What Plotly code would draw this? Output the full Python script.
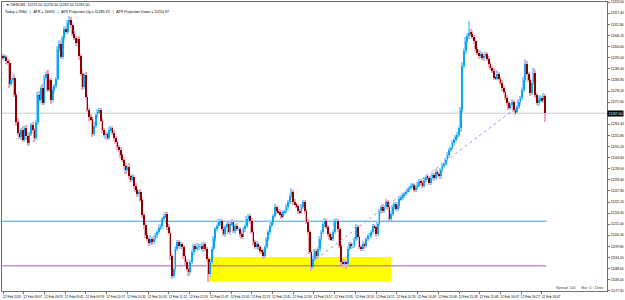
import plotly.graph_objects as go

# ---------------- data ----------------
FIRST_OPEN = 11296.0
CLOSE = [
    11295.0, 11295.5, 11293.5, 11292.5, 11281.5, 11283.5, 11285.0, 11276.0, 11262.5, 11257.0,
    11255.0, 11258.5, 11253.5, 11259.5, 11255.5, 11252.0, 11256.5, 11261.0, 11258.5, 11254.5,
    11262.5, 11276.0, 11273.5, 11279.5, 11272.0, 11285.0, 11287.0, 11278.5, 11283.5, 11273.5,
    11278.5, 11280.5, 11284.5, 11299.5, 11302.0, 11295.5, 11305.0, 11309.5, 11308.0, 11312.5,
    11314.0, 11311.5, 11307.0, 11305.0, 11302.5, 11304.5, 11296.0, 11287.0, 11280.0, 11286.5,
    11275.0, 11268.5, 11265.0, 11264.0, 11256.5, 11260.5, 11266.0, 11267.5, 11268.5, 11263.0,
    11258.5, 11256.0, 11256.5, 11254.5, 11258.5, 11259.5, 11257.0, 11254.5, 11252.5, 11250.0,
    11248.5, 11246.0, 11243.5, 11240.5, 11238.5, 11240.0, 11235.5, 11233.5, 11235.0, 11230.5,
    11228.5, 11226.0, 11227.5, 11223.0, 11215.5, 11210.5, 11205.5, 11203.5, 11201.5, 11203.5,
    11202.0, 11203.5, 11205.5, 11207.0, 11209.0, 11210.0, 11213.5, 11215.0, 11216.0, 11209.5,
    11206.5, 11195.0, 11185.0, 11188.5, 11198.5, 11202.0, 11200.0, 11201.0, 11199.5, 11195.0,
    11192.0, 11188.5, 11187.0, 11192.0, 11197.0, 11200.0, 11198.5, 11199.5, 11200.0, 11200.0,
    11198.5, 11201.0, 11198.5, 11193.5, 11186.0, 11192.0, 11198.5, 11203.5, 11208.5, 11210.0,
    11212.0, 11212.5, 11208.5, 11206.0, 11209.5, 11211.0, 11207.0, 11211.0, 11212.0, 11207.5,
    11210.0, 11208.5, 11208.5, 11206.0, 11204.5, 11208.5, 11210.0, 11213.5, 11215.0, 11212.5,
    11207.0, 11202.0, 11199.5, 11201.0, 11199.5, 11197.5, 11197.0, 11195.0, 11199.5, 11203.5,
    11207.0, 11210.0, 11212.0, 11215.0, 11219.5, 11217.5, 11217.0, 11216.0, 11215.0, 11217.0,
    11217.5, 11219.5, 11222.0, 11225.0, 11227.5, 11222.0, 11221.0, 11220.0, 11217.5, 11217.0,
    11219.5, 11222.0, 11217.5, 11212.0, 11207.0, 11197.0, 11189.5, 11193.5, 11197.5, 11195.0,
    11198.5, 11203.5, 11207.0, 11211.0, 11212.5, 11209.5, 11206.0, 11204.5, 11203.5, 11207.0,
    11212.5, 11212.5, 11208.5, 11200.0, 11192.0, 11191.0, 11192.0, 11191.0, 11198.5, 11201.0,
    11200.0, 11200.0, 11203.5, 11209.5, 11204.5, 11199.5, 11198.5, 11201.0, 11200.0, 11203.5,
    11205.0, 11205.0, 11207.0, 11210.0, 11209.5, 11206.0, 11211.0, 11217.5, 11219.5, 11217.5,
    11219.5, 11222.0, 11219.5, 11213.5, 11216.0, 11219.5, 11221.0, 11218.5, 11220.0, 11223.5,
    11224.5, 11225.5, 11226.0, 11227.5, 11228.5, 11229.5, 11230.5, 11231.0, 11228.5, 11230.0,
    11231.0, 11233.0, 11232.0, 11230.5, 11233.5, 11235.0, 11234.5, 11232.0, 11234.5, 11236.0,
    11234.5, 11237.5, 11236.5, 11235.5, 11238.5, 11240.5, 11241.5, 11243.5, 11246.0, 11248.5,
    11249.5, 11252.0, 11253.5, 11255.0, 11256.0, 11259.5, 11268.5, 11291.0, 11298.5, 11303.5,
    11306.0, 11307.5, 11307.0, 11305.5, 11303.5, 11299.5, 11297.5, 11296.0, 11297.0, 11295.0,
    11296.0, 11297.0, 11294.5, 11292.0, 11290.0, 11288.5, 11285.0, 11284.5, 11287.0, 11284.5,
    11282.0, 11279.5, 11277.5, 11274.5, 11272.0, 11269.5, 11271.0, 11272.5, 11268.5, 11267.5,
    11270.0, 11272.5, 11274.5, 11278.5, 11283.5, 11292.0, 11287.0, 11283.5, 11277.0, 11282.0,
    11287.5, 11276.0, 11272.0, 11273.5, 11274.5, 11273.5, 11275.5, 11267.0,
]
WICK_UP = [
    1, 1.5, 1, 1, 2, 1.5, 1, 2, 1, 2,
    1.5, 1, 2, 1, 1.5, 2, 1, 1, 1.5, 1,
    1, 1.5, 2, 1, 2, 1.5, 1, 2, 1, 1.5,
    1.5, 1, 1, 1.5, 2, 1.5, 1, 1.5, 1, 1.5,
    2, 1.5, 1, 1.5, 1, 1, 1.5, 1, 2, 1,
    1.5, 1, 1, 1.5, 1, 2, 1, 1.5, 1, 1,
    1.5, 1, 1, 1, 1.5, 1, 1, 1.5, 1, 1,
    1, 1.5, 1, 1, 1.5, 1, 2, 1, 1.5, 1,
    1.5, 1, 1, 1.5, 1, 1, 1.5, 1, 1, 2,
    1, 1.5, 1, 1, 1.5, 1, 1, 1.5, 1, 1,
    1.5, 1, 1, 2, 1.5, 1, 1, 1.5, 1, 1,
    1, 1.5, 1, 1, 1.5, 1, 1, 2, 1, 1,
    1.5, 1, 1, 1, 1, 1.5, 1, 1.5, 1, 1,
    1.5, 1, 1, 1.5, 1, 1, 1.5, 1, 1.5, 1,
    1, 1.5, 1, 1, 1.5, 1, 1, 1.5, 1, 1,
    1.5, 1, 1, 1.5, 1, 1, 1, 1.5, 1, 1,
    1, 1.5, 1, 1, 1.5, 1, 1, 1.5, 1, 1,
    1, 1.5, 1, 1, 2, 1, 1.5, 1, 1, 1,
    1.5, 1, 1, 1, 1.5, 1, 1, 1.5, 1, 1,
    1, 1.5, 1, 1, 1.5, 1, 1, 1, 1.5, 1,
    1, 1.5, 1, 1, 1, 1.5, 1, 1, 1.5, 1,
    1, 1.5, 1, 1.5, 1, 1, 1, 1.5, 1, 1,
    1, 1.5, 1, 1, 1, 1, 1.5, 1, 1, 1.5,
    1, 1.5, 1, 1, 1.5, 1, 1, 1, 1.5, 1,
    1, 1, 1.5, 1, 1, 1, 1.5, 1, 1, 1,
    1.5, 1, 1, 1, 1.5, 1, 1, 1, 1.5, 1,
    1, 1.5, 1, 1, 1, 1.5, 1, 1, 1.5, 1,
    1, 1.5, 1, 1, 1.5, 1, 1.5, 2, 1.5, 2,
    1.5, 6, 2, 1.5, 1, 1.5, 1, 1.5, 2, 1,
    1.5, 1, 1, 1.5, 1, 1, 1.5, 1, 2, 1,
    1, 1.5, 1, 1, 1.5, 1, 1, 1.5, 1, 1,
    1, 1.5, 1, 1.5, 2, 2.5, 1.5, 1, 1.5, 2,
    2.5, 1.5, 1, 2, 1.5, 1, 1.5, 1,
]
WICK_DN = [
    1, 1, 1.5, 1, 2, 1, 1.5, 1, 2, 1.5,
    1, 1.5, 1, 1, 2, 1.5, 1, 1, 1.5, 2,
    1, 1.5, 1, 1.5, 1, 1, 1.5, 1, 1, 2,
    1, 1.5, 1, 1, 1.5, 1, 1, 1.5, 1, 1,
    1, 1.5, 1, 1, 1.5, 1, 2, 1, 1.5, 1,
    1.5, 1, 2, 1, 1.5, 1, 1, 1.5, 1, 1,
    1.5, 1, 2, 1, 1, 1.5, 1, 1.5, 1, 1.5,
    1, 1.5, 1, 1.5, 2, 1, 1.5, 1, 1, 1.5,
    1, 1.5, 1, 1, 1.5, 2, 1.5, 1, 1.5, 1,
    1.5, 1, 1, 1.5, 1, 1, 1.5, 1, 1, 1.5,
    1, 2, 1.5, 1, 1.5, 1, 1, 1.5, 1, 1.5,
    1.5, 1, 2, 1, 1, 1.5, 1, 1, 1.5, 1,
    1, 1.5, 1, 1.5, 4, 1.5, 1, 1, 1.5, 1,
    1, 1.5, 1, 1, 1.5, 1, 1, 1.5, 1, 1,
    1.5, 1, 1, 1.5, 1, 1, 1.5, 1, 1, 1.5,
    1, 1.5, 1, 1, 1.5, 1, 1, 1.5, 1, 1,
    1, 1.5, 1, 1, 1, 1.5, 1, 1, 1.5, 1,
    1, 1, 1.5, 1, 1, 1.5, 1, 1, 1.5, 1,
    1, 1, 1.5, 1, 1.5, 1, 2, 1, 1, 1.5,
    1, 1.5, 1, 1, 1.5, 1, 1, 1.5, 1, 1,
    1, 1, 1.5, 1, 1.5, 2, 1, 2.5, 1, 1,
    1.5, 1, 1, 1, 1.5, 1, 1, 1, 1.5, 1,
    1, 1.5, 1, 1, 1, 1.5, 1, 1, 1.5, 1,
    1, 1, 1.5, 1, 1, 1, 1.5, 1, 1, 1,
    1, 1.5, 1, 1, 1, 1.5, 1, 1, 1, 1.5,
    1, 1, 1.5, 1, 1, 1, 1.5, 1, 1, 1,
    1.5, 1, 1, 1, 1.5, 1, 1, 1, 1, 1.5,
    1, 1, 1.5, 1, 1, 1, 2, 1.5, 1, 1.5,
    1, 1.5, 1, 1, 1.5, 1, 1, 1.5, 1, 1,
    1.5, 1, 1, 1.5, 1, 1, 1.5, 1, 1, 1.5,
    1, 1.5, 1, 1, 1.5, 1, 1, 1.5, 1, 1.5,
    1, 1, 1.5, 1, 1, 1.5, 1, 1, 1.5, 1,
    1, 1.5, 1, 1.5, 1, 1, 1.5, 4.5,
]
TIME_LABELS = [
    "12 Feb 2019", "12 Feb 09:07", "12 Feb 09:23", "12 Feb 09:41", "12 Feb 09:59",
    "12 Feb 10:17", "12 Feb 10:35", "12 Feb 10:53", "12 Feb 11:11", "12 Feb 11:29",
    "12 Feb 11:47", "12 Feb 12:05", "12 Feb 12:23", "12 Feb 12:41", "12 Feb 12:59",
    "12 Feb 13:17", "12 Feb 13:35", "12 Feb 13:53", "12 Feb 14:11", "12 Feb 14:29",
    "12 Feb 14:49", "12 Feb 15:08", "12 Feb 15:28", "12 Feb 15:48", "12 Feb 16:07",
    "12 Feb 16:27", "12 Feb 16:47",
]
BARS_PER_LABEL = 12.5
PRICE_TICK0, PRICE_STEP, PRICE_TICKS = 11177.4, 5.6, 27

RESISTANCE = 11212.5
SUPPORT = 11190.0
ZONE_LOW, ZONE_HIGH = 11182.0, 11194.5
ZONE_FROM_BAR, ZONE_TO_BAR = 123.6, 234.0
LEVELS_END_BAR = 327.6
TREND_FROM = (189, 11193.5)
TREND_TO = (306, 11267.5)

# ---------------- build candles ----------------
n = len(CLOSE)
opens = [FIRST_OPEN] + CLOSE[:-1]
highs = [max(o, c) + u for o, c, u in zip(opens, CLOSE, WICK_UP)]
lows = [min(o, c) - d for o, c, d in zip(opens, CLOSE, WICK_DN)]
body_top = [max(o, c) for o, c in zip(opens, CLOSE)]
body_bot = [min(o, c) for o, c in zip(opens, CLOSE)]
xs = list(range(n))
last = CLOSE[-1]
is_bull = [c >= o for o, c in zip(opens, CLOSE)]

BULL_LIGHT = "#92d2fa"
BEAR_LIGHT = "#f0a8b8"
BULL_DARK = "#0aa6f2"
BEAR_DARK = "#8b0000"

fig = go.Figure()
# light shadow: full high-low range of every bar
fig.add_trace(go.Bar(
    x=xs,
    y=[h - l for h, l in zip(highs, lows)],
    base=lows,
    width=1.0,
    marker=dict(color=[BULL_LIGHT if b else BEAR_LIGHT for b in is_bull], line=dict(width=0)),
    hoverinfo="skip", showlegend=False,
))
# thin dark body on top
fig.add_trace(go.Bar(
    x=xs,
    y=[t - b for t, b in zip(body_top, body_bot)],
    base=body_bot,
    width=0.5,
    marker=dict(color=[BULL_DARK if b else BEAR_DARK for b in is_bull], line=dict(width=0)),
    hoverinfo="skip", showlegend=False,
))

shapes = [
    dict(type="rect", xref="x", yref="y", x0=ZONE_FROM_BAR, x1=ZONE_TO_BAR,
         y0=ZONE_LOW, y1=ZONE_HIGH, fillcolor="#ffff00", line=dict(width=0), layer="below"),
    dict(type="line", xref="paper", yref="y", x0=0, x1=1, y0=last, y1=last,
         line=dict(color="#c8c8c8", width=1), layer="below"),
    dict(type="line", xref="x", yref="y", x0=-1, x1=LEVELS_END_BAR, y0=RESISTANCE, y1=RESISTANCE,
         line=dict(color="#3c9cf0", width=1), layer="below"),
    dict(type="line", xref="x", yref="y", x0=-1, x1=LEVELS_END_BAR, y0=SUPPORT, y1=SUPPORT,
         line=dict(color="#a65cb8", width=1), layer="below"),
    dict(type="line", xref="x", yref="y", x0=TREND_FROM[0], y0=TREND_FROM[1],
         x1=TREND_TO[0], y1=TREND_TO[1], line=dict(color="#9a9af5", width=1, dash="dot")),
]

FONT = "Liberation Sans, Arial, sans-serif"
annotations = [
    dict(xref="paper", yref="paper", x=0.004, y=0.988, xanchor="left", yanchor="middle",
         text="▼ DE30,M1  11275.50 11276.50 11262.50 11267.00", showarrow=False,
         font=dict(size=3.6, color="#000000", family=FONT)),
    dict(xref="paper", yref="paper", x=0.002, y=0.967, xanchor="left", yanchor="middle",
         text="Today = 9960   |   ATR = 16693   |   ATR Projection Up = 11289.23   |   ATR Projection Down = 11254.97",
         showarrow=False, font=dict(size=3.6, color="#000000", family=FONT)),
    dict(xref="paper", yref="paper", x=0.913, y=0.012, xanchor="left", yanchor="middle",
         text="Spread: 100      Bar: 0 : 13sec", showarrow=False,
         font=dict(size=3.6, color="#404040", family=FONT)),
    dict(xref="paper", yref="y", x=1.0, y=last, xanchor="left", yanchor="middle",
         text="%.2f" % last, showarrow=False, bgcolor="#000000", borderpad=0.5,
         font=dict(size=3.4, color="#ffffff", family=FONT)),
]

# price ticks; the one hidden behind the current-price box is left out
price_ticks = [round(PRICE_TICK0 + k * PRICE_STEP, 2) for k in range(PRICE_TICKS)]
price_ticks = [p for p in price_ticks if abs(p - last) > 2.5]

fig.update_layout(
    width=625, height=300,
    margin=dict(l=1, r=16, t=1, b=8, pad=0),
    paper_bgcolor="#ffffff", plot_bgcolor="#ffffff",
    shapes=shapes, annotations=annotations,
    barmode="overlay", bargap=0, showlegend=False,
    font=dict(family=FONT, size=3.4, color="#000000"),
)
fig.update_xaxes(
    range=[-0.6, 364.2],
    showgrid=False, zeroline=False,
    showline=True, mirror=True, linecolor="#707070", linewidth=1,
    tickmode="array",
    tickvals=[k * BARS_PER_LABEL for k in range(len(TIME_LABELS))],
    ticktext=TIME_LABELS, tickangle=0,
    ticks="outside", ticklen=2, tickcolor="#707070",
    tickfont=dict(size=3.2, color="#000000"), ticklabelshift=9,
)
fig.update_yaxes(
    side="right", range=[11177.3, 11323.1],
    showgrid=False, zeroline=False,
    showline=True, mirror=True, linecolor="#707070", linewidth=1,
    tickmode="array", tickvals=price_ticks,
    ticktext=["%.2f" % p for p in price_ticks],
    ticks="outside", ticklen=2, tickcolor="#707070",
    tickfont=dict(size=3.2, color="#000000"),
)

fig.write_html("out.html")
